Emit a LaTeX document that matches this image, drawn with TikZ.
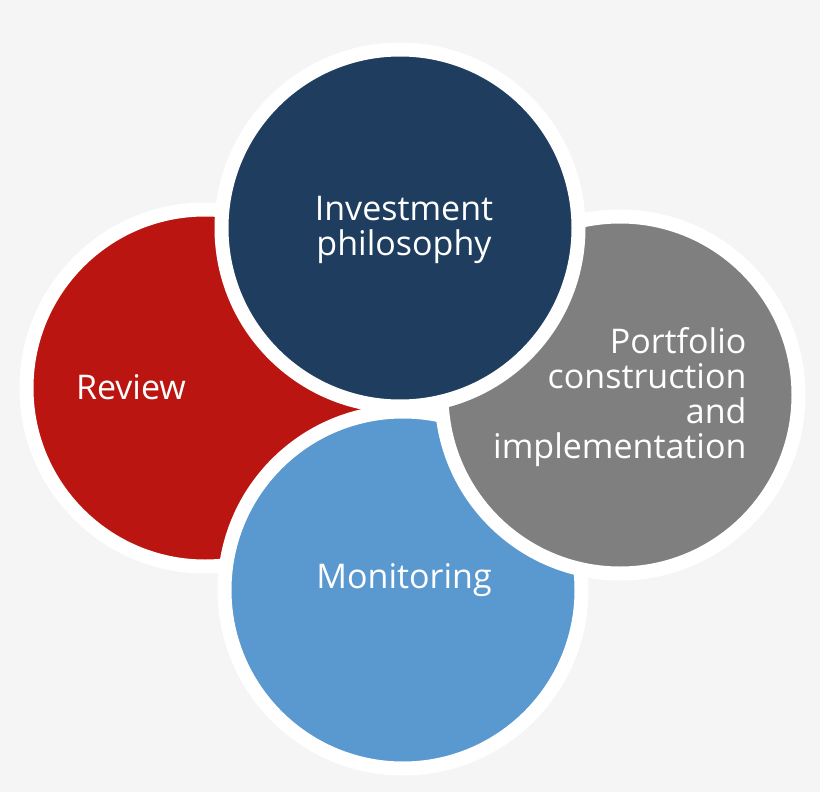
\documentclass[tikz,border=0pt]{standalone}
\usepackage{fontspec}
\setmainfont{Open Sans}
\definecolor{bgcol}{HTML}{F5F5F5}
\definecolor{revcol}{HTML}{BA1511}
\definecolor{invcol}{HTML}{1E3D5F}
\definecolor{porcol}{HTML}{7F7F7F}
\definecolor{moncol}{HTML}{5A98D0}
\tikzset{
  disc/.style={circle, draw=white, line width=14pt, minimum size=357pt, inner sep=0pt},
  label/.style={text=white, font=\fontsize{34}{35}\selectfont, align=center}
}
\begin{document}
\begin{tikzpicture}[x=1pt,y=-1pt]
	\fill [bgcol](0,0) rectangle (820,792);
	\useasboundingbox (0,0) rectangle (820,792);
	\node [disc, fill=revcol] (review) at (205,388) {};
	\node [disc, fill=moncol] (monitor) at (403,590) {};
	\node [disc, fill=porcol] (portfolio) at (620,395) {};
	\node [disc, fill=invcol] (invest) at (400,228) {};
	
	\node [label] (reviewtxt) at (131,387) {Review};
	\node [label] (monitortxt) at (404,580) {Monitoring};
	\node [label, align=right, anchor=east] (portfoliotxt) at (750,397) {Portfolio\\construction\\and\\implementation};
	\node [label] (investtxt) at (404,230) {Investment\\philosophy};
\end{tikzpicture}
\end{document}
